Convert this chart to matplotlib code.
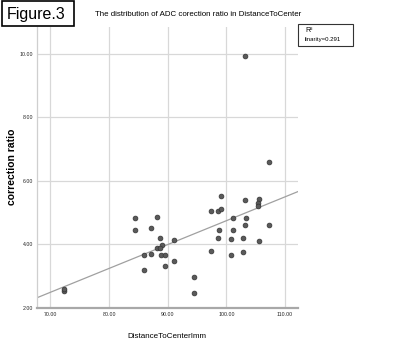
import numpy as np
import matplotlib
matplotlib.use("Agg")
import matplotlib.pyplot as plt

# values
distance = [72.3, 72.3, 84.4, 84.4, 88.2, 87.2, 88.75, 89.0, 88.1, 88.75,
            91.1, 85.9, 87.2, 88.9, 89.6, 89.6, 91.1, 85.9, 94.5, 94.5,
            97.4, 98.5, 99.1, 99.1, 101.2, 98.7, 101.2, 98.5, 100.7, 97.4,
            100.7, 107.2, 103.1, 105.5, 105.45, 105.45, 103.3, 103.1, 107.2,
            102.9, 105.55, 102.9, 103.1]
ratio = [2.52, 2.60, 4.85, 4.45, 4.86, 4.51, 4.20, 3.98, 3.88, 3.88,
         4.14, 3.66, 3.69, 3.68, 3.66, 3.32, 3.48, 3.20, 2.98, 2.46,
         5.05, 5.05, 5.13, 5.54, 4.85, 4.45, 4.47, 4.20, 4.17, 3.80,
         3.68, 6.59, 5.41, 5.44, 5.32, 5.20, 4.83, 4.60, 4.61,
         4.20, 4.11, 3.75, 9.95]
xticks = [70, 80, 90, 100, 110]
yticks = [2, 4, 6, 8, 10]
r2_text = "linarity=0.291"

plt.rcParams["font.family"] = ["Liberation Sans", "DejaVu Sans"]

W, H = 400, 350
fig = plt.figure(figsize=(W / 100, H / 100), dpi=100)
# axes placed in pixel terms: left 37, right 298, top 27, bottom 308
ax = fig.add_axes([37 / W, 1 - 308 / H, (298 - 37) / W, (308 - 27) / H])

x = np.array(distance)
y = np.array(ratio)
xmin, xmax = 67.7, 112.2
ax.set_xlim(xmin, xmax)
ax.set_ylim(2.0, 10.85)

slope, icpt = np.polyfit(x, y, 1)
xs = np.array([xmin, xmax])
ax.plot(xs, icpt + slope * xs, color="#a0a0a0", lw=0.9, zorder=2)

ax.scatter(x, y, s=12, color="#5a5a5a", edgecolors="#333333",
           linewidths=0.5, zorder=3)

ax.set_xticks(xticks)
ax.set_yticks(yticks)
ax.set_xticklabels([f"{v:.2f}" for v in xticks], fontsize=3.8)
ax.set_yticklabels([f"{v:.2f}" for v in yticks], fontsize=3.8)
ax.tick_params(length=0, pad=3, colors="#222222")
ax.grid(True, color="#d8d8d8", lw=0.9)
ax.set_axisbelow(True)

for s in ["top", "right"]:
    ax.spines[s].set_visible(False)
ax.spines["left"].set_color("#cfcfcf")
ax.spines["left"].set_linewidth(0.9)
ax.spines["bottom"].set_color("#a8a8a8")
ax.spines["bottom"].set_linewidth(1.6)

fig.text(12 / W, 1 - 167 / H, "correction ratio", rotation=90,
         ha="center", va="center", fontsize=7.5, fontweight="bold")
fig.text(167 / W, 1 - 337 / H, "DistanceToCenterImm", ha="center",
         va="center", fontsize=5.8)
fig.text(198 / W, 1 - 15 / H,
         "The distribution of ADC corection ratio in DistanceToCenter",
         ha="center", va="center", fontsize=5.7)

# Figure.3 label box
fig.patches.append(plt.Rectangle((2 / W, 1 - 26 / H), 72 / W, 25 / H,
                                 transform=fig.transFigure, fill=True,
                                 facecolor="white", edgecolor="black", lw=1.2,
                                 zorder=5))
fig.text(36 / W, 1 - 14 / H, "Figure.3", ha="center", va="center",
         fontsize=11.5, zorder=6)

# R2 legend box
fig.patches.append(plt.Rectangle((298 / W, 1 - 46 / H), 55 / W, 22 / H,
                                 transform=fig.transFigure, fill=True,
                                 facecolor="white", edgecolor="#333333",
                                 lw=0.8, zorder=5))
fig.text(305 / W, 1 - 31 / H, "R²", ha="left", va="center", fontsize=5,
         zorder=6)
fig.text(305 / W, 1 - 39 / H, r2_text, ha="left", va="center",
         fontsize=4.3, zorder=6)

fig.savefig("out.png", dpi=100)
